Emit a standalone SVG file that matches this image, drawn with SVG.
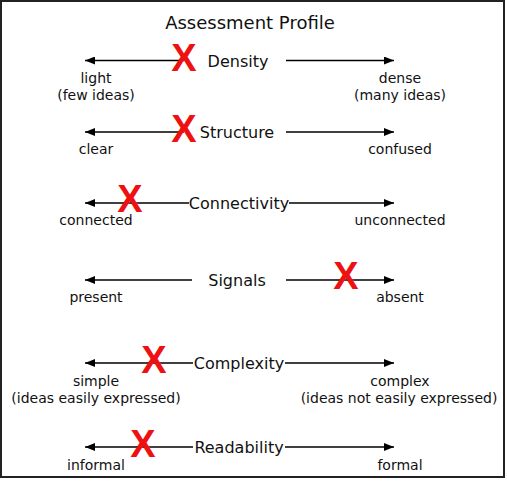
<svg xmlns="http://www.w3.org/2000/svg" width="507" height="491" viewBox="0 0 507 491">
<style>
.t{font-family:"DejaVu Sans","Liberation Sans",sans-serif;fill:#111;text-anchor:middle}
.title{font-size:18px}
.cat{font-size:16px}
.lab{font-size:14px}
.x{font-family:"Liberation Sans",Arial,sans-serif;font-weight:bold;font-size:38px;fill:#ee1111;text-anchor:middle}
.ln{stroke:#000;stroke-width:1.5;fill:none}
</style>
<defs>
<marker id="ah" markerUnits="userSpaceOnUse" markerWidth="12" markerHeight="8" refX="10" refY="4" orient="auto-start-reverse">
<path d="M0,0 L10,4 L0,8 z" fill="#000"/>
</marker>
</defs>
<rect x="1" y="1" width="503" height="476" fill="#fff" stroke="#222" stroke-width="2"/>
<text class="t title" x="250" y="29">Assessment Profile</text>
<g id="connectors">
<line class="ln" x1="85" y1="60.5" x2="184" y2="60.5" marker-start="url(#ah)"/>
<line class="ln" x1="286" y1="60.5" x2="394" y2="60.5" marker-end="url(#ah)"/>
<line class="ln" x1="85" y1="132" x2="184" y2="132" marker-start="url(#ah)"/>
<line class="ln" x1="286" y1="132" x2="394" y2="132" marker-end="url(#ah)"/>
<line class="ln" x1="85" y1="203" x2="189" y2="203" marker-start="url(#ah)"/>
<line class="ln" x1="289" y1="203" x2="394" y2="203" marker-end="url(#ah)"/>
<line class="ln" x1="85" y1="280" x2="192" y2="280" marker-start="url(#ah)"/>
<line class="ln" x1="286" y1="280" x2="394" y2="280" marker-end="url(#ah)"/>
<line class="ln" x1="85" y1="363" x2="193" y2="363" marker-start="url(#ah)"/>
<line class="ln" x1="285" y1="363" x2="394" y2="363" marker-end="url(#ah)"/>
<line class="ln" x1="85" y1="447" x2="193" y2="447" marker-start="url(#ah)"/>
<line class="ln" x1="285" y1="447" x2="394" y2="447" marker-end="url(#ah)"/>
</g>
<g id="density">
<text class="t cat" x="238" y="66.5">Density</text>
<text class="t lab" x="96" y="83">light</text>
<text class="t lab" x="96" y="100">(few ideas)</text>
<text class="t lab" x="400" y="83">dense</text>
<text class="t lab" x="400" y="100">(many ideas)</text>
<text class="x" x="184" y="71">X</text>
</g>
<g id="structure">
<text class="t cat" x="237" y="137.5">Structure</text>
<text class="t lab" x="96" y="154">clear</text>
<text class="t lab" x="400" y="154">confused</text>
<text class="x" x="184" y="142">X</text>
</g>
<g id="connectivity">
<text class="t cat" x="239" y="208.5">Connectivity</text>
<text class="t lab" x="96" y="225">connected</text>
<text class="t lab" x="400" y="225">unconnected</text>
<text class="x" x="130" y="212">X</text>
</g>
<g id="signals">
<text class="t cat" x="237" y="285.5">Signals</text>
<text class="t lab" x="96" y="302">present</text>
<text class="t lab" x="400" y="302">absent</text>
<text class="x" x="346" y="289">X</text>
</g>
<g id="complexity">
<text class="t cat" x="239" y="368.5">Complexity</text>
<text class="t lab" x="96" y="386">simple</text>
<text class="t lab" x="96" y="403">(ideas easily expressed)</text>
<text class="t lab" x="400" y="386">complex</text>
<text class="t lab" x="399" y="403">(ideas not easily expressed)</text>
<text class="x" x="154" y="373">X</text>
</g>
<g id="readability">
<text class="t cat" x="239" y="452.5">Readability</text>
<text class="t lab" x="96" y="470">informal</text>
<text class="t lab" x="400" y="470">formal</text>
<text class="x" x="143" y="457">X</text>
</g>
</svg>
